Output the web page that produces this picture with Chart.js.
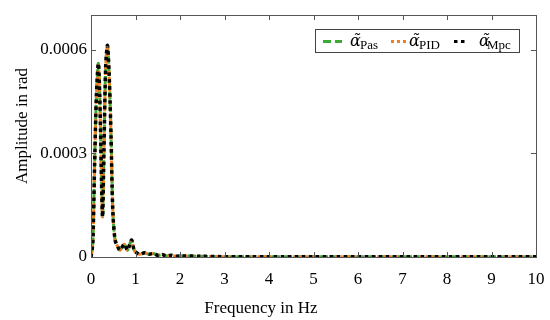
<!DOCTYPE html>
<html>
<head>
<meta charset="utf-8">
<script src="https://cdn.jsdelivr.net/npm/chart.js@4"></script>
<style>
  html, body { margin: 0; padding: 0; background: #fff; }
  #wrap { width: 550px; height: 320px; }
</style>
</head>
<body>
<div id="wrap"><canvas id="fftChart" width="550" height="320"></canvas></div>
<script>
// frequency axis (Hz) and amplitude readings (rad) for each controller
const freq = [0, 0.04, 0.08, 0.12, 0.165, 0.2, 0.23, 0.26, 0.29, 0.33, 0.37, 0.41, 0.45, 0.49, 0.54, 0.6, 0.65, 0.75, 0.82, 0.91, 0.97, 1.03, 1.1, 1.2, 1.3, 1.4, 1.5, 1.6, 1.7, 1.8, 1.9, 2.0, 2.5, 3, 4, 5, 6, 7, 8, 9, 10];
const pasAmp = [0, 0.00004, 0.00026, 0.00046, 0.00056, 0.00045, 0.00026, 0.000116, 0.0003, 0.00055, 0.00061, 0.00052, 0.00035, 0.000135, 0.00005, 0.00003, 0.00002, 0.000037, 0.00002, 0.000049, 0.00002, 0.000012, 0.000008, 0.000012, 0.000008, 0.00001, 0.000005, 0.000007, 0.000003, 0.000005, 0.000002, 0.000003, 0.000002, 0.000001, 0.000001, 0.000001, 0.000001, 0.000001, 0.000001, 0.000001, 0.000001];
const pidAmp = [0, 0.00004, 0.00026, 0.00046, 0.00056, 0.00045, 0.00026, 0.000116, 0.0003, 0.00055, 0.00061, 0.00052, 0.00035, 0.000135, 0.00005, 0.00003, 0.00002, 0.000037, 0.00002, 0.000049, 0.00002, 0.000012, 0.000008, 0.000012, 0.000008, 0.00001, 0.000005, 0.000007, 0.000003, 0.000005, 0.000002, 0.000003, 0.000002, 0.000001, 0.000001, 0.000001, 0.000001, 0.000001, 0.000001, 0.000001, 0.000001];
const mpcAmp = [0, 0.00004, 0.00026, 0.00046, 0.00056, 0.00045, 0.00026, 0.000116, 0.0003, 0.00055, 0.000612, 0.00052, 0.00035, 0.000135, 0.00005, 0.00003, 0.00002, 0.000037, 0.00002, 0.000049, 0.00002, 0.000012, 0.000008, 0.000012, 0.000008, 0.00001, 0.000005, 0.000007, 0.000003, 0.000005, 0.000002, 0.000003, 0.000002, 0.000001, 0.000001, 0.000001, 0.000001, 0.000001, 0.000001, 0.000001, 0.000001];
const seriesSubs = ['Pas', 'PID', 'Mpc'];
const yTicks = [0, 0.0003, 0.0006];
const xTitle = 'Frequency in Hz';
const yTitle = 'Amplitude in rad';

const serif = '"Liberation Serif", "DejaVu Serif", serif';

function toPoints(vals) {
  return freq.map((f, i) => ({ x: f, y: vals[i] }));
}

// inward tick marks on all four sides + frame + axis titles
const frameTicks = {
  id: 'frameTicks',
  afterDraw(chart) {
    const { ctx, chartArea: a, scales } = chart;
    ctx.save();
    ctx.strokeStyle = '#555';
    ctx.lineWidth = 1;
    ctx.strokeRect(a.left + 0.5, a.top + 0.5, a.right - a.left, a.bottom - a.top);
    const len = 5;
    ctx.beginPath();
    scales.x.ticks.forEach(t => {
      const px = Math.round(scales.x.getPixelForValue(t.value)) + 0.5;
      ctx.moveTo(px, a.bottom); ctx.lineTo(px, a.bottom - len);
      ctx.moveTo(px, a.top); ctx.lineTo(px, a.top + len);
    });
    scales.y.ticks.forEach(t => {
      const py = Math.round(scales.y.getPixelForValue(t.value)) + 0.5;
      ctx.moveTo(a.left, py); ctx.lineTo(a.left + len, py);
      ctx.moveTo(a.right, py); ctx.lineTo(a.right - len, py);
    });
    ctx.stroke();

    // axis titles (sit a bit off-centre in the original)
    ctx.fillStyle = '#000';
    ctx.font = '17px ' + serif;
    ctx.textAlign = 'center';
    ctx.textBaseline = 'middle';
    ctx.fillText(xTitle, 261, 309);
    ctx.translate(23, 126);
    ctx.rotate(-Math.PI / 2);
    ctx.fillText(yTitle, 0, 0);
    ctx.restore();
  }
};

// legend box drawn inside the plot, top right
const legendLine = [[8, 27], [76, 92], [139, 153]];
const legendAlpha = [35, 94, 164];
const legendSub = [45, 104, 172];
const insideLegend = {
  id: 'insideLegend',
  afterDraw(chart) {
    const ctx = chart.ctx;
    const a = chart.chartArea;
    const boxW = 204, boxH = 23;
    const bx = a.right - 17 - boxW, by = a.top + 14;
    ctx.save();
    ctx.fillStyle = '#fff';
    ctx.fillRect(bx, by, boxW, boxH);
    ctx.strokeStyle = '#444';
    ctx.lineWidth = 1;
    ctx.strokeRect(bx + 0.5, by + 0.5, boxW, boxH);
    const cy = by + boxH / 2 + 1;
    chart.data.datasets.forEach((ds, i) => {
      ctx.strokeStyle = ds.borderColor;
      ctx.lineWidth = 3;
      ctx.setLineDash(ds.borderDash);
      ctx.beginPath();
      ctx.moveTo(bx + legendLine[i][0], cy); ctx.lineTo(bx + legendLine[i][1], cy);
      ctx.stroke();
      ctx.setLineDash([]);
      ctx.fillStyle = '#000';
      ctx.textBaseline = 'alphabetic';
      ctx.font = 'italic 16px "DejaVu Serif", serif';
      ctx.fillText('\u03B1\u0303', bx + legendAlpha[i], cy + 4);
      ctx.font = '13px ' + serif;
      ctx.fillText(seriesSubs[i], bx + legendSub[i], cy + 7);
    });
    ctx.restore();
  }
};

const chart = new Chart(document.getElementById('fftChart'), {
  type: 'line',
  data: {
    datasets: [
      { label: 'Pas', data: toPoints(pasAmp), borderColor: '#3aaa35', borderWidth: 3, borderDash: [8, 4], pointRadius: 0, tension: 0.3, order: 3 },
      { label: 'PID', data: toPoints(pidAmp), borderColor: '#f57f20', borderWidth: 3, borderDash: [3, 3], borderDashOffset: 3, pointRadius: 0, tension: 0.3, order: 2 },
      { label: 'Mpc', data: toPoints(mpcAmp), borderColor: '#000000', borderWidth: 3.5, borderDash: [3.5, 3.5], pointRadius: 0, tension: 0.3, order: 1 }
    ]
  },
  options: {
    responsive: false,
    animation: false,
    layout: { padding: { left: 0, right: 14, top: 15, bottom: 0 } },
    plugins: { legend: { display: false }, tooltip: { enabled: false } },
    scales: {
      x: {
        type: 'linear', min: 0, max: 10,
        ticks: { stepSize: 1, color: '#000', font: { family: serif, size: 17 }, padding: 12, maxRotation: 0 },
        grid: { drawOnChartArea: false, drawTicks: false },
        border: { display: false },
        afterFit(s) { s.height = 63; s.paddingRight = 0; s.paddingLeft = 0; }
      },
      y: {
        min: 0, max: 0.0007,
        afterBuildTicks(s) { s.ticks = yTicks.map(v => ({ value: v })); },
        ticks: {
          color: '#000', font: { family: serif, size: 17 }, padding: 4,
          callback: v => v === 0 ? '0' : v.toFixed(4)
        },
        grid: { drawOnChartArea: false, drawTicks: false },
        border: { display: false },
        afterFit(s) { s.width = 91; s.paddingTop = 0; s.paddingBottom = 0; }
      }
    }
  },
  plugins: [frameTicks, insideLegend]
});
</script>
</body>
</html>
